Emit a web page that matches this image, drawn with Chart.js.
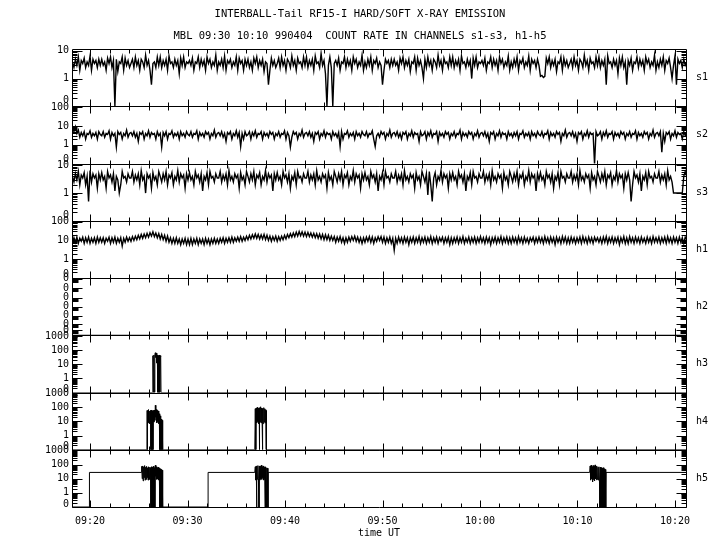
<!DOCTYPE html>
<html>
<head>
<meta charset="utf-8">
<script src="https://cdn.jsdelivr.net/npm/chart.js@4.4.1/dist/chart.umd.min.js"></script>
<style>
  html, body { margin: 0; padding: 0; background: #fff; }
  #c { display: block; }
</style>
</head>
<body>
<canvas id="c" width="720" height="550"></canvas>
<script>
// time is in minutes after 09:00 UT
const tStart = 18.15, tEnd = 81.13;
const timeTicks = [20, 30, 40, 50, 60, 70, 80];
const sT0 = 18.2, sDt = 0.15;   // sample grid of the s1-s3 and h1 traces

// count rates (0 = no counts, drawn on the panel floor)
const s1 = [
  4, 2.5, 5, 3, 6, 2, 4.5, 3.5, 5.5, 2.5, 4, 3, 6.5, 2, 5, 3.5, 4.5, 2.5, 5, 3,
  5, 3, 4, 2, 5.5, 3.5, 6, 2.5, 4.5, 0, 5, 1.8, 4, 3.5, 6, 2, 5.5, 3, 4.5, 2.5,
  3.5, 5, 2.5, 6, 3, 4.5, 2, 5, 4, 2.5, 7, 3, 4.5, 2, 0.6, 3.5, 4, 2.5, 6, 3,
  6, 2.5, 4.5, 3, 5, 2, 6.5, 3.5, 4, 2.5, 5, 3, 4.5, 1.5, 5.5, 3, 6, 2.5, 4, 3.5,
  4.5, 3, 5.5, 2, 4, 3.5, 6, 2.5, 5, 3, 4.5, 2, 6, 3.5, 5, 2.5, 4, 3, 7, 2,
  4, 3, 5, 2.5, 6.5, 2, 4.5, 3.5, 5, 2.5, 4, 3, 6, 2, 5.5, 3.5, 4.5, 2, 5, 3,
  5, 2.5, 4, 2, 5.5, 3.5, 6, 2.5, 4.5, 3, 5, 1.8, 4, 3.5, 0.6, 2, 5.5, 3, 4.5, 2.5,
  3.5, 5.5, 2.5, 6, 3, 4.5, 2, 5, 4, 2.5, 6.5, 3, 4.5, 2, 5.5, 3.5, 4, 2.5, 6, 3,
  6, 2.5, 4.5, 3, 5, 2, 6.5, 3.5, 4, 2.5, 8, 3, 4.5, 1.5, 0, 3, 6, 2.5, 0, 3.5,
  4.5, 3, 5.5, 2, 4, 3.5, 6, 2.5, 5, 3, 4.5, 2, 6, 3.5, 5, 2.5, 4, 3, 7, 2,
  4, 2.5, 5, 3, 6, 2, 4.5, 3.5, 5.5, 2.5, 4, 3, 0.6, 2, 5, 3.5, 4.5, 2.5, 5, 3,
  5, 3, 4, 2, 5.5, 3.5, 6, 2.5, 4.5, 3, 5, 1.8, 4, 3.5, 6, 2, 5.5, 3, 4.5, 2.5,
  1, 5, 2.5, 6, 3, 4.5, 2, 5, 4, 2.5, 7, 3, 4.5, 2, 5.5, 3.5, 4, 2.5, 6, 3,
  6, 2.5, 4.5, 3, 5, 2, 6.5, 3.5, 4, 2.5, 5, 3, 4.5, 1, 5.5, 3, 6, 2.5, 4, 3.5,
  4.5, 3, 5.5, 2, 4, 3.5, 6, 2.5, 5, 3, 4.5, 2, 6, 3.5, 5, 2.5, 4, 3, 6.5, 2,
  4, 2.5, 5, 3, 6, 2, 4.5, 3.5, 5.5, 2.5, 4, 3, 6.5, 2, 5, 3.5, 4.5, 2.5, 5, 3,
  1.2, 1.3, 1.1, 1.2, 5.5, 3.5, 6, 2.5, 4.5, 3, 5, 1.8, 4, 3.5, 6, 2, 5.5, 3, 4.5, 2.5,
  3.5, 5, 2.5, 6, 3, 4.5, 2, 5, 4, 2.5, 7, 3, 4.5, 2, 5.5, 3.5, 4, 2.5, 6, 3,
  6, 2.5, 4.5, 3, 5, 0.6, 6.5, 3.5, 4, 2.5, 5, 3, 4.5, 1.5, 5.5, 3, 6, 2.5, 4, 0.6,
  4.5, 3, 5.5, 2, 4, 3.5, 6, 2.5, 5, 3, 4.5, 2, 6, 3.5, 5, 2.5, 4, 3, 7, 2,
  4, 2.5, 5, 3, 6, 2, 4.5, 3.5, 5.5, 2.5, 1, 3, 6.5, 0.6, 5, 3.5, 4.5, 2.5, 5, 3,
  4
];
const s2 = [
  8, 5, 9, 4, 6, 2.5, 4.5, 3, 5, 2, 4, 3.5, 5.5, 2.5, 4, 3, 4.5, 2, 5, 3.5,
  3, 5, 2.5, 4, 3.5, 5.5, 2, 4.5, 3, 4, 0.75, 5, 3.5, 4.5, 2, 4, 3, 6, 2.5, 4,
  4.5, 3, 5, 2.5, 4, 1.5, 4.5, 3.5, 5, 2, 4, 3, 5.5, 2.5, 4.5, 3.5, 4, 2, 5, 3,
  4, 0.75, 4.5, 3, 5, 2, 4, 3.5, 5.5, 2.5, 4, 3, 4.5, 2, 5, 3, 4, 2.5, 5, 3.5,
  3, 5, 2.5, 4, 3.5, 5.5, 2, 4.5, 3, 4, 2.5, 5, 3.5, 4.5, 2, 4, 3, 6, 2.5, 4,
  4.5, 3, 5, 2.5, 4, 1.5, 4.5, 3.5, 5, 2, 4, 3, 5.5, 2.5, 4.5, 0.8, 4, 2, 5, 3,
  3.5, 5, 2, 4.5, 3, 5.5, 2.5, 4, 3.5, 5, 2, 4.5, 3, 4, 2.5, 5, 3.5, 4.5, 2, 4,
  3, 5, 2.5, 4, 3.5, 5.5, 2, 4.5, 3, 0.75, 2.5, 5, 3.5, 4.5, 2, 4, 3, 6, 2.5, 4,
  4.5, 3, 5, 2.5, 4, 1.5, 4.5, 3.5, 5, 2, 4, 3, 5.5, 2.5, 4.5, 3.5, 4, 2, 5, 3,
  4, 2.5, 4.5, 0.8, 5, 2, 4, 3.5, 5.5, 2.5, 4, 3, 4.5, 2, 5, 3, 4, 2.5, 5, 3.5,
  3, 5, 2.5, 4, 3.5, 5.5, 2, 0.8, 3, 4, 2.5, 5, 3.5, 4.5, 2, 4, 3, 6, 2.5, 4,
  4.5, 3, 5, 2.5, 4, 2, 4.5, 3.5, 5, 2, 4, 3, 5.5, 2.5, 4.5, 3.5, 4, 1.5, 5, 3,
  3.5, 5, 2, 4.5, 3, 5.5, 2.5, 4, 3.5, 5, 1.5, 4.5, 3, 4, 2.5, 5, 3.5, 4.5, 2, 4,
  3, 5, 2.5, 4, 3.5, 6, 2, 4.5, 3, 4, 2.5, 5, 3.5, 4.5, 2, 4, 3, 5.5, 2.5, 4,
  4.5, 3, 5, 2.5, 4, 1.5, 4.5, 3.5, 5, 2, 4, 3, 5.5, 2.5, 4.5, 3.5, 4, 2, 5, 3,
  4, 2.5, 4.5, 3, 5, 2, 4, 3.5, 5.5, 2.5, 4, 3, 4.5, 2, 5, 3, 4, 2.5, 5, 3.5,
  3, 5, 2.5, 4, 3.5, 5.5, 2, 4.5, 3, 4, 2.5, 5, 3.5, 4.5, 1.5, 4, 3, 6, 2.5, 4,
  4.5, 3, 5, 2.5, 4, 1.5, 4.5, 3.5, 5, 2, 4, 3, 5.5, 2.5, 4.5, 3.5, 4, 0.09, 5, 3,
  3.5, 5, 2, 4.5, 3, 5.5, 2.5, 4, 3.5, 5, 2, 4.5, 3, 4, 2.5, 5, 3.5, 4.5, 2, 4,
  3, 5, 2.5, 4, 3.5, 5.5, 2, 4.5, 3, 4, 2.5, 5, 3.5, 4.5, 2, 4, 3, 6, 2.5, 4,
  4.5, 3, 5, 0.4, 4, 1.5, 4.5, 3.5, 5, 2, 4, 3, 5.5, 2.5, 4.5, 3.5, 4, 2, 5, 3,
  4
];
const s3 = [
  4, 2.5, 5, 3, 6, 2, 4.5, 3.5, 5.5, 2, 4, 0.5, 6.5, 2.5, 5, 3.5, 4.5, 1.5, 5, 3,
  5.5, 3, 4, 1.5, 6, 3.5, 4.5, 2.5, 5, 1.2, 4, 3, 1, 2, 6, 3.5, 4, 2.5, 5, 3.5,
  3.5, 6, 2.5, 4.5, 3, 5, 2, 6.5, 3, 4, 1, 5, 3.5, 4.5, 1.5, 5.5, 3, 4, 2, 6,
  4, 2.5, 5, 3, 6, 2, 4.5, 3.5, 5.5, 2, 4, 3, 6.5, 2.5, 5, 3.5, 4.5, 1.5, 5, 3,
  5.5, 3, 4, 2, 6, 3.5, 4.5, 2.5, 5, 1.2, 4, 3, 5.5, 2, 6, 3.5, 4, 2.5, 5, 3.5,
  3.5, 6, 2.5, 4.5, 3, 5, 2, 6.5, 3, 4, 2.5, 5, 3.5, 4.5, 1.5, 5.5, 3, 4, 2, 6,
  4, 2.5, 5, 3, 6, 2, 4.5, 3.5, 5.5, 2, 4, 3, 6.5, 2.5, 5, 3.5, 4.5, 1.2, 5, 3,
  5.5, 3, 4, 2, 6, 3.5, 4.5, 2.5, 5, 1.5, 4, 3, 5.5, 2, 6, 3.5, 4, 2.5, 5, 3.5,
  3.5, 6, 2.5, 4.5, 3, 5, 2, 6.5, 3, 4, 2.5, 5, 3.5, 4.5, 1.5, 5.5, 3, 4, 2, 6,
  4, 2.5, 5, 3, 6, 2, 4.5, 3.5, 5.5, 2, 4, 3, 6.5, 2.5, 5, 3.5, 4.5, 1.5, 5, 3,
  5.5, 3, 4, 2, 6, 3.5, 4.5, 2.5, 5, 1.2, 4, 3, 5.5, 2, 6, 3.5, 4, 2.5, 5, 3.5,
  3.5, 6, 2.5, 4.5, 3, 5, 2, 6.5, 3, 4, 2.5, 5, 3.5, 4.5, 1.5, 5.5, 3, 4, 2, 6,
  4, 2.5, 5, 0.85, 6, 2, 0.5, 3.5, 5.5, 2, 4, 3, 6.5, 2.5, 5, 3.5, 4.5, 1.5, 5, 3,
  5.5, 3, 4, 2, 6, 3.5, 4.5, 2.5, 5, 1.2, 4, 3, 5.5, 2, 6, 3.5, 4, 2.5, 5, 3.5,
  3.5, 6, 2.5, 4.5, 3, 5, 2, 6.5, 3, 4, 2.5, 5, 3.5, 4.5, 1.5, 5.5, 3, 4, 2, 6,
  4, 2.5, 5, 3, 6, 2, 4.5, 3.5, 5.5, 2, 4, 3, 6.5, 2.5, 5, 3.5, 4.5, 1.2, 5, 3,
  5.5, 3, 4, 2, 6, 3.5, 4.5, 2.5, 5, 1.5, 4, 3, 5.5, 2, 6, 3.5, 4, 2.5, 5, 3.5,
  3.5, 6, 2.5, 4.5, 3, 5, 2, 6.5, 3, 4, 2.5, 5, 3.5, 4.5, 1.5, 5.5, 3, 4, 2, 6,
  4, 2.5, 5, 3, 6, 2, 4.5, 3.5, 5.5, 2, 4, 3, 6.5, 2.5, 5, 3.5, 4.5, 1.5, 5, 3,
  5.5, 3, 0.5, 2, 6, 3.5, 4.5, 2.5, 5, 1.2, 4, 3, 5.5, 2, 6, 3.5, 4, 2.5, 5, 3.5,
  3.5, 6, 2.5, 4.5, 3, 5, 2, 6.5, 3, 4, 2.5, 1, 1, 1, 1, 1, 1, 1, 4, 6,
  4
];
const h1 = [
  7, 14, 8, 15, 7, 13, 9, 15, 7, 14, 8, 15, 7, 13, 8, 14, 7, 15, 8, 14,
  8, 14, 7, 13, 9, 15, 7, 14, 8, 15, 7, 13, 8, 14, 5, 13, 8, 15, 9, 14,
  9, 16, 10, 17, 11, 19, 12, 21, 13, 22, 14, 24, 15, 26, 17, 29, 16, 25, 14, 23,
  12, 21, 11, 19, 9, 17, 8, 14, 7, 13, 7, 14, 7, 12, 6, 12, 7, 13, 6, 12,
  6, 13, 6, 12, 7, 13, 6, 12, 7, 12, 6, 13, 7, 12, 6, 12, 7, 13, 7, 12,
  7, 13, 8, 14, 7, 13, 8, 14, 8, 15, 8, 14, 9, 15, 9, 16, 9, 15, 10, 17,
  11, 19, 12, 20, 13, 22, 13, 21, 12, 20, 12, 21, 11, 19, 10, 17, 9, 16, 10, 17,
  9, 16, 10, 17, 11, 19, 12, 21, 14, 23, 15, 25, 16, 28, 17, 30, 18, 29, 17, 28,
  16, 27, 16, 25, 15, 24, 14, 23, 13, 22, 12, 21, 11, 20, 11, 19, 10, 17, 10, 16,
  8, 15, 9, 16, 8, 14, 7, 14, 8, 15, 9, 16, 10, 17, 9, 15, 8, 14, 7, 14,
  8, 15, 9, 16, 8, 15, 7, 14, 9, 16, 10, 16, 8, 15, 7, 14, 8, 15, 7, 13,
  3, 13, 7, 15, 8, 14, 7, 15, 8, 14, 6, 14, 8, 15, 7, 14, 8, 16, 7, 14,
  8, 15, 7, 14, 8, 16, 7, 14, 8, 15, 7, 14, 9, 15, 7, 14, 8, 15, 6, 14,
  7, 14, 8, 15, 7, 14, 8, 16, 7, 13, 8, 15, 7, 14, 8, 15, 7, 14, 8, 16,
  8, 14, 7, 15, 8, 14, 6, 14, 8, 15, 7, 14, 8, 16, 7, 14, 8, 15, 7, 14,
  7, 15, 8, 14, 7, 16, 8, 14, 7, 15, 8, 13, 7, 14, 9, 15, 7, 14, 8, 15,
  8, 14, 7, 16, 8, 14, 7, 15, 8, 14, 6, 15, 8, 14, 7, 16, 8, 15, 7, 14,
  7, 15, 8, 14, 7, 14, 8, 15, 7, 16, 8, 14, 7, 15, 8, 14, 7, 15, 9, 14,
  8, 14, 7, 15, 8, 16, 7, 14, 8, 15, 7, 14, 8, 15, 6, 14, 8, 16, 7, 14,
  7, 16, 8, 14, 7, 15, 8, 14, 7, 15, 8, 13, 7, 15, 8, 14, 7, 16, 8, 14,
  8, 15, 7, 14, 8, 15, 7, 16, 8, 14, 7, 15, 8, 14, 7, 15, 8, 14, 7, 15,
  11
];
// sparse channels as [minute, counts]
const h2 = [[18.15, 0], [81.13, 0]];
const h3 = [
  [18.15, 0], [26.42, 0], [26.45, 40], [26.5, 0], [26.55, 45], [26.6, 0], [26.65, 50],
  [26.7, 65], [26.75, 30], [26.8, 60], [26.85, 12], [26.9, 45], [26.95, 0], [27.0, 40],
  [27.05, 0], [27.1, 45], [27.15, 0], [27.2, 40], [27.25, 35], [27.28, 0], [81.13, 0]
];
const h4 = [
  [18.15, 0], [25.84, 0], [25.86, 60], [25.88, 0], [25.9, 60], [25.95, 8], [26.0, 70],
  [26.05, 10], [26.1, 55], [26.15, 7], [26.2, 60], [26.25, 0], [26.3, 65], [26.35, 0],
  [26.4, 55], [26.45, 0], [26.5, 60], [26.55, 9], [26.6, 65], [26.65, 12], [26.7, 140],
  [26.75, 20], [26.8, 70], [26.85, 8], [26.9, 60], [26.95, 10], [27.0, 55], [27.05, 7],
  [27.1, 35], [27.15, 0], [27.2, 25], [27.25, 0], [27.3, 15], [27.35, 0], [27.4, 12], [27.45, 0],
  [36.9, 0], [36.95, 80], [37.0, 0], [37.05, 90], [37.1, 8], [37.15, 100], [37.2, 10],
  [37.25, 85], [37.3, 7], [37.35, 90], [37.37, 0], [37.4, 95], [37.45, 9], [37.5, 110],
  [37.55, 8], [37.6, 90], [37.65, 10], [37.68, 0], [37.72, 85], [37.77, 7], [37.82, 95],
  [37.87, 9], [37.92, 80], [37.97, 8], [38.02, 70], [38.05, 0], [38.08, 60], [38.12, 0],
  [81.13, 0]
];
const h5 = [
  [18.15, 0], [19.93, 0], [19.94, 28], [25.25, 28],
  [25.3, 75], [25.35, 10], [25.4, 80], [25.45, 7], [25.5, 70], [25.55, 12], [25.6, 85],
  [25.65, 8], [25.7, 65], [25.75, 9], [25.8, 75], [25.85, 12], [25.9, 60], [25.95, 8],
  [26.0, 70], [26.05, 10], [26.1, 65], [26.15, 9], [26.2, 60],
  [26.25, 0], [26.3, 70], [26.35, 0], [26.4, 65], [26.45, 0], [26.5, 75], [26.55, 0],
  [26.6, 60], [26.65, 0], [26.7, 90], [26.75, 15], [26.8, 70], [26.85, 9], [26.9, 60],
  [26.95, 10], [27.0, 65], [27.05, 8], [27.1, 55], [27.15, 0], [27.2, 50], [27.25, 0],
  [27.3, 45], [27.35, 0], [27.4, 40], [27.45, 0],
  [32.1, 0], [32.11, 28], [36.9, 28],
  [36.95, 70], [37.0, 8], [37.05, 80], [37.08, 0], [37.12, 75], [37.17, 9], [37.22, 85],
  [37.27, 10], [37.33, 0], [37.37, 80], [37.42, 8], [37.47, 75], [37.52, 10], [37.57, 90],
  [37.62, 9], [37.67, 70], [37.72, 12], [37.77, 80], [37.82, 8], [37.87, 65], [37.92, 10],
  [37.95, 0], [38.0, 70], [38.05, 0], [38.1, 60], [38.15, 0], [38.2, 55], [38.25, 0], [38.27, 28],
  [71.25, 28], [71.3, 80], [71.35, 8], [71.4, 90], [71.45, 10], [71.5, 70], [71.55, 6],
  [71.6, 85], [71.65, 9], [71.7, 75], [71.75, 7], [71.8, 95], [71.85, 10], [71.9, 70],
  [71.95, 8], [72.0, 80], [72.05, 9], [72.1, 65], [72.15, 8], [72.2, 70], [72.25, 9],
  [72.3, 0], [72.35, 65], [72.4, 0], [72.45, 60], [72.5, 0], [72.55, 55], [72.6, 0],
  [72.65, 60], [72.7, 0], [72.75, 50], [72.8, 0], [72.85, 45], [72.9, 0], [72.93, 28],
  [81.13, 28]
];

const titleLines = [
  'INTERBALL-Tail RF15-I HARD/SOFT X-RAY EMISSION',
  'MBL 09:30 10:10 990404  COUNT RATE IN CHANNELS s1-s3, h1-h5'
];

// one panel per channel, top to bottom
const panels = [
  { id: 'ys1', name: 's1', max: 11.7, labels: [10, 1, 0.16] },
  { id: 'ys2', name: 's2', max: 112, labels: [100, 10, 1, 0.16] },
  { id: 'ys3', name: 's3', max: 11.7, labels: [10, 1, 0.16] },
  { id: 'yh1', name: 'h1', max: 112, labels: [100, 10, 1, 0.16] },
  { id: 'yh2', name: 'h2', linear: true, max: 7, labels: [6.9, 5.75, 4.6, 3.5, 2.4, 1.35, 0.65] },
  { id: 'yh3', name: 'h3', max: 1122, labels: [1000, 100, 10, 1, 0.16] },
  { id: 'yh4', name: 'h4', max: 1122, labels: [1000, 100, 10, 1, 0.16] },
  { id: 'yh5', name: 'h5', max: 1122, labels: [1000, 100, 10, 1, 0.16] }
];

function gridPoints(vals) {
  return vals.map((v, i) => ({ x: sT0 + i * sDt, y: v > 0 ? v : 0.1 }));
}
function pairPoints(list, floor) {
  return list.map(([t, v]) => ({ x: t, y: v > 0 ? v : floor }));
}
const seriesData = {
  ys1: gridPoints(s1), ys2: gridPoints(s2), ys3: gridPoints(s3), yh1: gridPoints(h1),
  yh2: pairPoints(h2, 0), yh3: pairPoints(h3, 0.1), yh4: pairPoints(h4, 0.1), yh5: pairPoints(h5, 0.1)
};
const dense = ['ys1', 'ys2', 'ys3', 'yh1'];

const mono = { family: 'DejaVu Sans Mono', size: 10 };

function hhmm(v) {
  const h = 9 + Math.floor(v / 60), m = Math.round(v % 60);
  return String(h).padStart(2, '0') + ':' + String(m).padStart(2, '0');
}

const scales = {
  x: {
    type: 'linear', min: tStart, max: tEnd,
    grid: { display: false, drawTicks: false }, border: { display: false },
    afterBuildTicks: s => { s.ticks = timeTicks.map(v => ({ value: v })); },
    afterFit: s => { s.height = 43; },
    ticks: { padding: 8, maxRotation: 0, autoSkip: false, color: '#000', font: mono, callback: v => hhmm(v) },
    title: { display: true, text: 'time UT', color: '#000', font: mono, padding: { top: 0, bottom: 11 } }
  },
  // channel names down the right side, one per panel
  names: {
    type: 'linear', position: 'right', min: 0, max: panels.length,
    grid: { display: false, drawTicks: false }, border: { display: false },
    afterBuildTicks: s => { s.ticks = panels.map((p, i) => ({ value: panels.length - i - 0.5 })); },
    afterFit: s => { s.width = 34; },
    ticks: { autoSkip: false, padding: 10, color: '#000', font: mono,
      callback: v => panels[Math.round(panels.length - v - 0.5)].name }
  }
};
// stacked left axes are laid out last-added on top, so add bottom panel first
panels.slice().reverse().forEach(p => {
  scales[p.id] = {
    type: p.linear ? 'linear' : 'logarithmic',
    position: 'left', stack: 'panels', stackWeight: 1, offset: false,
    min: p.linear ? 0 : 0.1, max: p.max,
    grid: { display: false, drawTicks: false }, border: { display: false },
    afterBuildTicks: s => { s.ticks = p.labels.map(v => ({ value: v })); },
    afterFit: s => { s.width = 72; },
    ticks: { autoSkip: false, padding: 3, color: '#000', font: mono,
      callback: v => (p.linear || v < 0.5) ? '0' : String(v) }
  };
});

// frame and inward ticks on all panel edges
const frame = {
  id: 'frame',
  afterDatasetsDraw(chart) {
    const { ctx, chartArea: a, scales: sc } = chart;
    const L = Math.round(a.left) + 0.5, R = Math.round(a.right) + 0.5;
    ctx.save();
    ctx.strokeStyle = '#000';
    ctx.lineWidth = 1;
    ctx.beginPath();
    ctx.moveTo(L, Math.round(a.top) + 0.5); ctx.lineTo(L, Math.round(a.bottom) + 0.5);
    ctx.moveTo(R, Math.round(a.top) + 0.5); ctx.lineTo(R, Math.round(a.bottom) + 0.5);
    panels.forEach(p => {
      const s = sc[p.id];
      const top = Math.round(s.top) + 0.5, bot = Math.round(s.bottom) + 0.5;
      ctx.moveTo(L, top); ctx.lineTo(R, top);
      ctx.moveTo(L, bot); ctx.lineTo(R, bot);
      for (let m = 20; m <= 80; m += 2) {
        const px = Math.round(sc.x.getPixelForValue(m)) + 0.5;
        const len = m % 10 === 0 ? 7 : 4;
        ctx.moveTo(px, top); ctx.lineTo(px, top + len);
        ctx.moveTo(px, bot); ctx.lineTo(px, bot - len);
      }
      const yt = [];
      if (p.linear) {
        p.labels.forEach(v => {
          yt.push([v, 10]);
          [0.12, 0.24, 0.36].forEach(d => yt.push([v - d, 6]));
        });
      } else {
        for (let d = 0.1; d <= p.max; d *= 10) {
          for (let k = 1; k <= 9; k++) {
            const v = Number((k * d).toPrecision(3));
            if (v >= 0.1 && v <= p.max) yt.push([v, k === 1 ? 10 : 5]);
          }
        }
      }
      yt.forEach(([v, len]) => {
        const py = Math.round(s.getPixelForValue(v)) + 0.5;
        ctx.moveTo(L, py); ctx.lineTo(L + len, py);
        ctx.moveTo(R, py); ctx.lineTo(R - len, py);
      });
    });
    ctx.stroke();
    ctx.restore();
  }
};

new Chart(document.getElementById('c'), {
  type: 'line',
  data: {
    datasets: panels.map(p => ({
      label: p.name,
      data: seriesData[p.id],
      yAxisID: p.id,
      borderColor: '#000',
      borderWidth: dense.includes(p.id) ? 1.4 : 1,
      pointRadius: 0,
      fill: false,
      tension: 0
    }))
  },
  options: {
    responsive: false,
    animation: false,
    layout: { padding: 0 },
    plugins: {
      legend: { display: false },
      tooltip: { enabled: false },
      title: {
        display: true, text: titleLines, color: '#000',
        font: { family: 'DejaVu Sans Mono', size: 10.5, weight: 'normal', lineHeight: '22px' },
        padding: { top: 3, bottom: 2 }
      }
    },
    scales: scales
  },
  plugins: [frame]
});
</script>
</body>
</html>
